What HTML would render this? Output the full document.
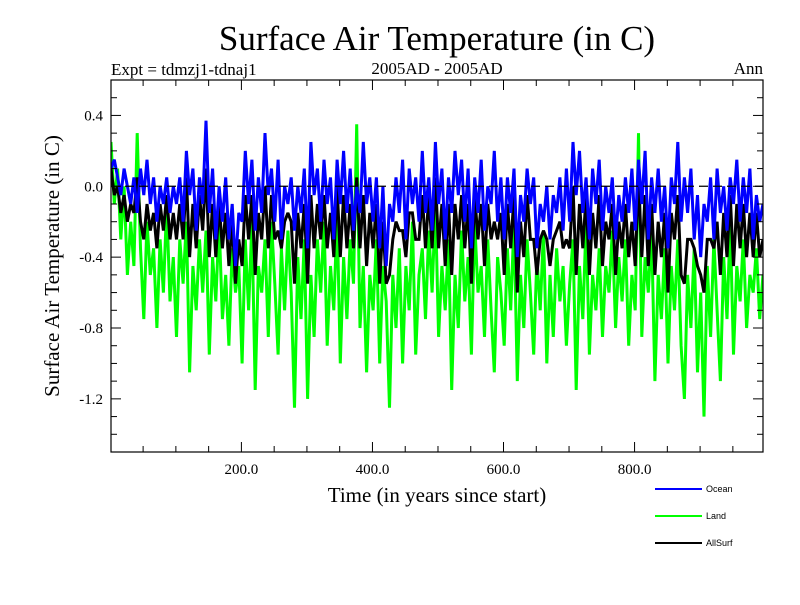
<!DOCTYPE html>
<html><head><meta charset="utf-8"><style>
body{margin:0;background:#fff;}
svg text{font-family:"Liberation Serif",serif;}
</style></head><body>
<svg id="chart" width="800" height="600" xmlns="http://www.w3.org/2000/svg">
<text x="437" y="50" font-size="35" text-anchor="middle">Surface Air Temperature (in C)</text>
<text x="111" y="75" font-size="17">Expt = tdmzj1-tdnaj1</text>
<text x="437" y="74" font-size="17" text-anchor="middle">2005AD - 2005AD</text>
<text x="763" y="74" font-size="17" text-anchor="end">Ann</text>
<text x="437" y="502" font-size="21" text-anchor="middle">Time (in years since start)</text>
<text x="0" y="0" font-size="21" text-anchor="middle" transform="translate(59,266) rotate(-90)">Surface Air Temperature (in C)</text>
<defs><clipPath id="clip"><rect x="111" y="80" width="652" height="372"/></clipPath></defs>
<g id="series" clip-path="url(#clip)"></g>
<g id="axes"></g>
<rect x="111" y="80" width="652" height="372" fill="none" stroke="#000" stroke-width="1.2"/>
<g id="legend"></g>
</svg>
<script>
const ocean=[0.1,0.15,0.05,-0.05,0.1,0.0,-0.1,0.05,-0.15,0.1,-0.05,0.15,-0.1,0.05,-0.2,0.0,-0.1,0.05,-0.15,0.0,
-0.1,0.05,-0.2,0.2,-0.05,0.1,-0.25,0.05,-0.1,0.37,-0.15,0.1,-0.3,0.0,-0.2,0.05,-0.3,-0.1,-0.45,-0.15,
-0.2,0.2,-0.1,0.15,-0.25,0.05,-0.15,0.3,-0.05,0.1,-0.2,0.15,-0.3,0.0,-0.1,0.05,-0.25,0.0,-0.15,0.1,
-0.35,0.25,-0.05,0.1,-0.2,0.15,-0.1,0.05,-0.3,0.15,-0.1,0.2,-0.15,0.1,-0.25,0.0,-0.15,0.25,-0.1,0.05,
-0.2,0.05,-0.35,0.0,-0.45,-0.1,-0.2,0.05,-0.15,0.15,-0.3,0.1,-0.1,0.05,-0.2,0.2,-0.15,0.05,-0.25,0.25,
-0.1,0.1,-0.3,0.05,-0.15,0.2,-0.05,0.15,-0.2,0.1,-0.35,0.05,-0.15,0.15,-0.25,0.0,-0.1,0.2,-0.2,0.05,
-0.3,0.05,-0.15,0.1,-0.4,-0.05,-0.2,0.1,-0.1,0.05,-0.35,-0.1,-0.2,0.0,-0.3,-0.05,-0.15,0.05,-0.25,0.1,
-0.2,0.25,-0.05,0.2,-0.15,0.05,-0.3,0.1,-0.1,0.15,-0.25,0.0,-0.15,0.05,-0.3,-0.05,-0.2,0.05,-0.15,0.1,
-0.25,0.15,-0.1,0.2,-0.3,0.05,-0.15,0.1,-0.2,0.0,-0.35,0.05,-0.1,0.25,-0.2,0.05,-0.15,0.1,-0.3,-0.05,
-0.4,-0.1,-0.2,0.05,-0.3,0.1,-0.15,0.0,-0.25,0.05,-0.1,0.15,-0.2,0.05,-0.15,0.1,-0.3,-0.05,-0.2,-0.1];
const land=[0.25,-0.1,0.1,-0.3,0.0,-0.5,-0.2,-0.45,0.3,-0.35,-0.75,-0.2,-0.5,-0.35,-0.8,-0.3,-0.6,-0.1,-0.65,-0.4,
-0.85,-0.3,-0.55,-0.2,-1.05,-0.45,-0.7,-0.3,-0.6,-0.25,-0.95,-0.4,-0.65,-0.2,-0.75,-0.5,-0.9,-0.35,-0.6,-0.45,
-1.0,-0.3,-0.7,-0.2,-1.15,-0.45,-0.6,-0.3,-0.85,-0.2,-0.55,-0.95,-0.35,-0.7,-0.25,-0.6,-1.25,-0.4,-0.75,-0.3,
-1.2,-0.5,-0.85,-0.3,-0.6,-0.2,-0.9,-0.45,-0.7,-0.15,-1.0,-0.4,-0.75,-0.3,-0.55,0.35,-0.8,-0.45,-1.05,-0.5,
-0.7,-0.3,-1.0,-0.45,-0.65,-1.25,-0.5,-0.8,-0.35,-1.0,-0.45,-0.7,-0.2,-0.95,-0.5,-0.35,-0.75,-0.25,-0.6,-0.1,
-0.85,-0.45,-0.7,-0.3,-1.15,-0.5,-0.8,-0.25,-0.65,-0.4,-0.95,-0.2,-0.6,-0.45,-0.85,-0.3,-0.7,-1.05,-0.4,-0.6,
-0.9,-0.35,-0.7,-0.2,-1.1,-0.5,-0.8,-0.3,-0.6,-0.95,-0.4,-0.7,-0.25,-1.0,-0.5,-0.85,-0.35,-0.65,-0.45,-0.9,
-0.55,-0.3,-1.15,-0.45,-0.75,-0.2,-0.95,-0.5,-0.7,-0.35,-0.85,-0.45,-0.6,-0.25,-0.8,-0.4,-0.65,-0.3,-0.9,-0.5,
-0.7,0.3,-0.85,-0.4,-0.6,-0.25,-1.1,-0.5,-0.75,-0.35,-1.0,-0.45,-0.7,-0.3,-0.9,-1.2,-0.5,-0.8,-0.35,-1.05,
-0.6,-1.3,-0.45,-0.85,-0.3,-0.7,-1.1,-0.4,-0.75,-0.2,-0.95,-0.45,-0.65,-0.3,-0.8,-0.5,-0.6,-0.35,-0.75,-0.5];
const allSurf=[0.1,-0.05,0.0,-0.15,-0.05,-0.2,-0.1,-0.15,0.05,-0.2,-0.3,-0.1,-0.25,-0.15,-0.35,-0.1,-0.25,-0.05,-0.3,-0.15,
-0.3,-0.1,-0.3,0.05,-0.4,-0.1,-0.35,-0.05,-0.25,0.1,-0.4,-0.1,-0.4,-0.1,-0.35,-0.15,-0.45,-0.2,-0.55,-0.3,
-0.45,-0.05,-0.3,-0.05,-0.5,-0.15,-0.3,0.0,-0.35,-0.05,-0.3,-0.25,-0.35,-0.2,-0.15,-0.2,-0.55,-0.15,-0.35,-0.1,
-0.55,-0.05,-0.35,-0.1,-0.3,-0.05,-0.35,-0.15,-0.4,0.0,-0.4,-0.05,-0.35,-0.1,-0.35,0.05,-0.35,-0.05,-0.45,-0.15,
-0.35,-0.1,-0.55,-0.2,-0.55,-0.5,-0.3,-0.2,-0.25,-0.25,-0.4,-0.15,-0.15,-0.3,-0.3,-0.05,-0.35,-0.05,-0.35,0.05,
-0.35,-0.1,-0.45,-0.1,-0.5,-0.1,-0.3,-0.05,-0.35,-0.1,-0.55,-0.05,-0.3,-0.1,-0.45,-0.1,-0.3,-0.2,-0.3,-0.15,
-0.5,-0.1,-0.35,-0.05,-0.6,-0.2,-0.4,-0.05,-0.3,-0.3,-0.5,-0.3,-0.25,-0.3,-0.45,-0.3,-0.25,-0.2,-0.35,-0.3,
-0.35,0.0,-0.5,-0.1,-0.35,-0.05,-0.5,-0.15,-0.35,-0.05,-0.45,-0.2,-0.3,-0.1,-0.5,-0.2,-0.35,-0.1,-0.4,-0.2,
-0.45,0.05,-0.4,-0.05,-0.45,-0.1,-0.5,-0.2,-0.4,-0.15,-0.6,-0.15,-0.3,-0.05,-0.5,-0.55,-0.3,-0.3,-0.35,-0.45,
-0.5,-0.6,-0.3,-0.3,-0.35,-0.2,-0.5,-0.15,-0.4,-0.05,-0.45,-0.1,-0.35,-0.1,-0.4,-0.15,-0.4,-0.15,-0.4,-0.3];
const yearStep=5, yearStart=1;
const xTickLabels=[200,400,600,800];
const yTickLabels=[0.4,0.0,-0.4,-0.8,-1.2];

const X0=111,X1=763,Y0=80,Y1=452,XMIN=1,XMAX=996,YMIN=-1.5,YMAX=0.6;
const sx=v=>X0+(v-XMIN)/(XMAX-XMIN)*(X1-X0);
const sy=v=>Y1-(v-YMIN)/(YMAX-YMIN)*(Y1-Y0);
const NS="http://www.w3.org/2000/svg";
function mk(tag,attrs,parent){const e=document.createElementNS(NS,tag);for(const k in attrs)e.setAttribute(k,attrs[k]);parent.appendChild(e);return e;}
const g=document.getElementById('series');
function line(data,color,name){
  const pts=data.map((v,i)=>sx(yearStart+i*yearStep).toFixed(1)+','+sy(v).toFixed(1)).join(' ');
  const p=mk('polyline',{points:pts,fill:'none',stroke:color,'stroke-width':3,'stroke-linejoin':'miter','stroke-miterlimit':2},g);
  
  
}
line(land,'#00ff00','land-line');
line(allSurf,'#000000','allsurf-line');
line(ocean,'#0000ff','ocean-line');
const zl=mk('line',{x1:X0,x2:X1,y1:sy(0),y2:sy(0),stroke:'#000','stroke-width':1.2,'stroke-dasharray':'9,5'},g);



const ax=document.getElementById('axes');
for(let v=50;v<XMAX;v+=50){
  const big=v%200===0, len=big?10:6;
  mk('line',{x1:sx(v),x2:sx(v),y1:Y1,y2:Y1-len,stroke:'#000'},ax);
  mk('line',{x1:sx(v),x2:sx(v),y1:Y0,y2:Y0+len,stroke:'#000'},ax);
}
for(let k=-14;k<=5;k++){
  const v=k/10, big=k%4===0, len=big?10:6;
  mk('line',{x1:X0,x2:X0+len,y1:sy(v),y2:sy(v),stroke:'#000'},ax);
  mk('line',{x1:X1,x2:X1-len,y1:sy(v),y2:sy(v),stroke:'#000'},ax);
}
xTickLabels.forEach(v=>{
  const t=mk('text',{x:sx(v),y:Y1+22,'font-size':15,'text-anchor':'middle'},ax);
  t.textContent=v.toFixed(1);
  
  
});
yTickLabels.forEach(v=>{
  const t=mk('text',{x:X0-8,y:sy(v)+5,'font-size':15,'text-anchor':'end'},ax);
  t.textContent=v.toFixed(1);
  
  
});
const lg=document.getElementById('legend');
[['Ocean','#0000ff',489],['Land','#00ff00',516],['AllSurf','#000000',543]].forEach(([n,c,y])=>{
  const gg=mk('g',{},lg);
  
  
  mk('line',{x1:655,x2:702,y1:y,y2:y,stroke:c,'stroke-width':2},gg);
  const t=mk('text',{x:706,y:y+3,'font-size':9,style:'font-family:"Liberation Sans",sans-serif'},gg);
  t.textContent=n;
});
</script>
</body></html>
